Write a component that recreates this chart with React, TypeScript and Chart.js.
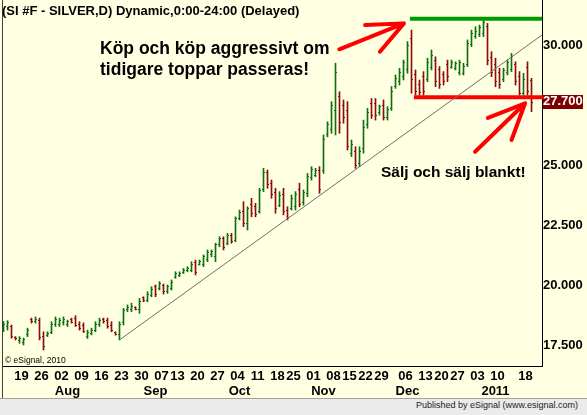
import React, { useEffect, useRef } from 'react';
import { Chart, registerables } from 'chart.js';

Chart.register(...registerables);

// ---- Daily OHLC bars (SI #F - SILVER, Jul 2010 .. Jan 2011), index = trading day ----
const highs = [
  18.50, 18.54, 18.36, 17.88, 17.88, 17.82, 18.23, 18.65, 18.70, 18.65,
  18.08, 18.08, 18.50, 18.70, 18.65, 18.70, 18.57, 18.65, 18.75, 18.50,
  18.45, 18.15, 18.23, 18.50, 18.65, 18.65, 18.65, 18.50, 18.08, 18.50,
  19.06, 19.20, 19.27, 19.12, 19.47, 19.54, 19.75, 19.96, 20.03, 20.17,
  20.07, 20.03, 20.24, 20.58, 20.58, 20.72, 20.79, 21.00, 21.07, 21.07,
  21.28, 21.49, 21.49, 21.77, 22.04, 22.04, 22.18, 22.18, 22.87, 23.15,
  23.50, 23.29, 23.64, 23.43, 24.06, 24.89, 24.82, 24.40, 24.06, 23.92,
  24.06, 23.29, 23.78, 23.92, 24.27, 23.99, 24.68, 24.96, 24.89, 24.96,
  26.28, 26.83, 27.67, 29.27, 28.08, 27.74, 27.67, 26.07, 25.79, 25.79,
  26.90, 27.39, 27.80, 27.80, 27.53, 27.74, 27.46, 28.30, 28.78, 29.06,
  29.40, 30.17, 30.65, 28.99, 28.57, 28.92, 29.48, 29.82, 29.54, 29.13,
  28.92, 29.40, 29.40, 29.33, 29.40, 29.27, 30.24, 30.65, 30.79, 30.86,
  31.14, 30.93, 29.75, 29.48, 29.06, 29.06, 29.40, 29.68, 29.33, 28.92,
  28.85, 29.33, 28.64,
];
const lows = [
  18.08, 18.15, 17.81, 17.74, 17.60, 17.53, 17.88, 18.44, 18.44, 17.74,
  17.32, 17.88, 18.00, 18.30, 18.30, 18.36, 18.30, 18.44, 18.30, 18.15,
  18.05, 17.80, 17.95, 18.08, 18.30, 18.44, 18.23, 18.08, 17.94, 17.74,
  18.36, 18.92, 18.92, 18.99, 18.85, 19.33, 19.33, 19.54, 19.54, 19.82,
  19.65, 19.68, 19.82, 20.31, 20.38, 20.51, 20.58, 20.58, 20.45, 20.86,
  20.79, 21.00, 21.20, 21.00, 21.62, 21.49, 21.70, 21.77, 21.83, 22.74,
  22.46, 22.32, 22.87, 22.87, 23.02, 23.92, 24.06, 23.64, 23.02, 23.29,
  22.95, 22.74, 23.15, 23.15, 23.29, 23.36, 23.71, 24.40, 24.54, 23.85,
  24.68, 26.20, 26.35, 26.28, 26.35, 26.77, 25.65, 25.38, 24.89, 24.96,
  25.52, 26.56, 26.97, 26.90, 27.11, 26.90, 26.90, 27.30, 28.22, 28.36,
  28.57, 28.85, 28.02, 27.94, 27.94, 27.94, 28.50, 28.99, 28.29, 28.22,
  28.36, 28.50, 29.06, 28.99, 28.78, 28.78, 29.13, 29.96, 30.31, 30.38,
  30.38, 29.20, 28.71, 28.29, 28.22, 28.50, 28.78, 28.92, 28.36, 27.94,
  27.94, 27.94, 27.25,
];
const opens = [
  18.20, 18.30, 18.30, 17.85, 17.70, 17.62, 17.95, 18.60, 18.50, 18.55,
  17.90, 17.92, 18.05, 18.40, 18.40, 18.45, 18.38, 18.60, 18.65, 18.40,
  18.35, 17.90, 18.00, 18.15, 18.40, 18.60, 18.55, 18.35, 18.05, 17.95,
  18.45, 19.00, 19.00, 19.10, 19.00, 19.50, 19.40, 19.60, 19.95, 19.90,
  20.00, 19.75, 19.90, 20.35, 20.42, 20.55, 20.62, 20.65, 20.95, 20.90,
  20.90, 21.10, 21.30, 21.20, 21.70, 21.95, 21.75, 22.10, 21.90, 22.80,
  23.10, 22.60, 23.40, 23.30, 23.10, 24.00, 24.70, 24.25, 23.90, 23.35,
  23.80, 23.15, 23.20, 23.30, 24.00, 23.45, 23.85, 24.50, 24.60, 24.80,
  24.80, 26.30, 26.50, 27.30, 27.90, 27.50, 27.30, 25.50, 25.60, 25.10,
  25.70, 26.70, 27.60, 27.60, 27.20, 27.50, 27.00, 27.40, 28.30, 28.50,
  28.70, 29.00, 30.30, 28.80, 28.40, 28.70, 28.60, 29.10, 29.40, 29.00,
  28.80, 29.20, 29.10, 29.05, 28.90, 28.85, 29.20, 30.05, 30.40, 30.45,
  30.50, 30.80, 29.50, 29.20, 28.90, 28.60, 28.90, 29.00, 29.20, 28.70,
  28.00, 29.10, 28.55,
];
const closes = [
  18.40, 18.45, 17.90, 17.78, 17.80, 17.75, 18.15, 18.50, 18.60, 17.85,
  17.45, 18.00, 18.40, 18.60, 18.55, 18.60, 18.50, 18.48, 18.35, 18.20,
  18.10, 18.05, 18.15, 18.40, 18.55, 18.50, 18.30, 18.15, 17.98, 18.40,
  18.95, 19.10, 19.15, 19.02, 19.35, 19.38, 19.65, 19.85, 19.65, 20.10,
  19.75, 19.95, 20.15, 20.50, 20.52, 20.65, 20.72, 20.90, 20.55, 21.00,
  21.20, 21.40, 21.42, 21.70, 21.95, 21.60, 22.10, 21.85, 22.80, 23.05,
  22.60, 23.20, 23.00, 22.95, 23.95, 24.70, 24.20, 23.80, 23.20, 23.75,
  23.10, 22.85, 23.65, 23.80, 23.40, 23.90, 24.55, 24.85, 24.80, 24.00,
  26.10, 26.70, 27.50, 28.90, 26.80, 27.00, 25.80, 25.90, 25.00, 25.60,
  26.60, 27.20, 27.10, 27.10, 27.45, 27.00, 27.35, 28.10, 28.65, 28.90,
  29.30, 30.00, 28.60, 28.10, 28.05, 28.10, 29.30, 29.60, 28.50, 28.40,
  28.50, 28.70, 29.30, 29.25, 29.30, 29.15, 30.10, 30.50, 30.60, 30.75,
  30.95, 29.40, 28.90, 28.50, 28.40, 28.95, 29.30, 29.55, 28.50, 28.00,
  28.60, 28.10, 27.65,
];

// ---- Axis ticks ----
const dayTickIdx = [4, 9, 14, 19, 24, 29, 34, 39, 43, 48, 53, 58, 63, 68, 72, 77, 82, 86, 90, 94, 100, 105, 109, 113, 118, 123, 130];
const dayTickText = ['19', '26', '02', '09', '16', '23', '30', '07', '13', '20', '27', '04', '11', '18', '25', '01', '08', '15', '22', '29', '06', '13', '20', '27', '03', '10', '18'];
const monthTickIdx = [16, 38, 59, 80, 101, 123];
const monthTickText = ['Aug', 'Sep', 'Oct', 'Nov', 'Dec', '2011'];
const priceTicks = [17.5, 20, 22.5, 25, 27.5, 30];

// ---- Annotations (in index / price space) ----
const trendLine = [{ x: 29, y: 17.74 }, { x: 134.625, y: 30.446 }];
const resistanceLevel = 31.12;
const resistanceFrom = 101.6;
const supportLevel = 27.85;
const supportFrom = 102.6;
const lastPrice = 27.7;
const buyArrow = [
  { x: 83.95, y: 29.85 }, { x: 100.1, y: 30.93 }, { x: 90.4, y: 30.86 },
  { x: 100.1, y: 30.93 }, { x: 94.1, y: 29.75 },
];
const sellArrow = [
  { x: 117.9, y: 25.58 }, { x: 130.4, y: 27.6 }, { x: 121.1, y: 26.99 },
  { x: 130.4, y: 27.6 }, { x: 127.0, y: 26.07 },
];

const X_MIN = -0.125;
const X_MAX = 134.625;
const Y_MIN = 16.654;
const Y_MAX = 31.904;

const UP = '#0f6e0f';
const DOWN = '#8c0c0c';
const FONT = "'Liberation Sans', Arial, Helvetica, sans-serif";

const ohlcTicks = {
  id: 'ohlcTicks',
  afterDatasetDraw(chart: any, args: any) {
    if (args.index !== 0) return;
    const { ctx, chartArea, scales } = chart;
    const xs = scales.x;
    const ys = scales.y;
    ctx.save();
    ctx.beginPath();
    ctx.rect(chartArea.left, chartArea.top, chartArea.right - chartArea.left, chartArea.bottom - chartArea.top);
    ctx.clip();
    for (let i = 0; i < opens.length; i++) {
      const xc = xs.getPixelForValue(i);
      const left = Math.round(xc - 0.5);
      ctx.fillStyle = closes[i] >= opens[i] ? UP : DOWN;
      const yo = Math.floor(ys.getPixelForValue(opens[i]));
      const yc = Math.floor(ys.getPixelForValue(closes[i]));
      ctx.fillRect(left - 1, yo, 1, 1);
      ctx.fillRect(left + 1, yc, 1, 1);
    }
    ctx.restore();
  },
};

const priceMarker = {
  id: 'priceMarker',
  afterDraw(chart: any) {
    const { ctx, chartArea, scales } = chart;
    const yv = scales.y.getPixelForValue(lastPrice);
    ctx.save();
    ctx.fillStyle = '#800000';
    ctx.fillRect(chartArea.right + 1, Math.round(yv) - 6, 40, 14);
    ctx.fillStyle = '#ffffff';
    ctx.font = `bold 13px ${FONT}`;
    ctx.textAlign = 'left';
    ctx.textBaseline = 'middle';
    ctx.fillText(lastPrice.toFixed(3), chartArea.right + 1, yv + 1);
    ctx.restore();
  },
};

export default function App() {
  const ref = useRef<HTMLCanvasElement | null>(null);

  useEffect(() => {
    if (!ref.current) return;
    const barData = highs.map((h, i) => ({ x: i, y: [lows[i], h] }));
    const barColors = closes.map((c, i) => (c >= opens[i] ? UP : DOWN));
    const lineDs = (data: any[], color: string, width: number, extra: any = {}) => ({
      type: 'line' as const,
      data,
      borderColor: color,
      borderWidth: width,
      pointRadius: 0,
      tension: 0,
      fill: false,
      borderCapStyle: 'round',
      borderJoinStyle: 'round',
      order: 0,
      ...extra,
    });
    const chart = new Chart(ref.current, {
      type: 'bar',
      data: {
        datasets: [
          {
            type: 'bar',
            data: barData as any,
            backgroundColor: barColors,
            borderWidth: 0,
            barThickness: 1,
            order: 10,
          } as any,
          lineDs(trendLine, '#6e6e6e', 1, { borderCapStyle: 'butt' }),
          lineDs([{ x: resistanceFrom, y: resistanceLevel }, { x: X_MAX, y: resistanceLevel }], '#009a00', 4, { borderCapStyle: 'butt' }),
          lineDs([{ x: supportFrom, y: supportLevel }, { x: 135.4, y: supportLevel }], '#ff0000', 4, { borderCapStyle: 'butt', clip: false }),
          lineDs(buyArrow, '#ff0000', 4),
          lineDs(sellArrow, '#ff0000', 4),
        ] as any,
      },
      options: {
        responsive: false,
        maintainAspectRatio: false,
        animation: false,
        devicePixelRatio: 1,
        events: [],
        layout: { padding: { left: 3, top: 0, right: 0, bottom: 0 } },
        plugins: {
          legend: { display: false },
          tooltip: { enabled: false },
          title: { display: false },
        },
        scales: {
          x: {
            type: 'linear',
            position: 'bottom',
            min: X_MIN,
            max: X_MAX,
            offset: false,
            weight: 0,
            grid: { display: false, drawTicks: false },
            border: { display: true, color: '#000000', width: 1 },
            ticks: {
              autoSkip: false,
              maxRotation: 0,
              minRotation: 0,
              labelOffset: 2,
              padding: 3,
              color: '#000000',
              font: { family: FONT, size: 13, weight: 'bold' },
              callback: (_v: any, i: number) => dayTickText[i],
            },
            afterBuildTicks: (axis: any) => {
              axis.ticks = dayTickIdx.map((v) => ({ value: v }));
            },
            afterFit: (axis: any) => {
              axis.height = 18;
              axis.paddingLeft = 0;
              axis.paddingRight = 0;
            },
          },
          x2: {
            type: 'linear',
            position: 'bottom',
            min: X_MIN,
            max: X_MAX,
            offset: false,
            weight: 1,
            grid: { display: false, drawTicks: false },
            border: { display: false },
            ticks: {
              autoSkip: false,
              maxRotation: 0,
              minRotation: 0,
              padding: 0,
              color: '#000000',
              font: { family: FONT, size: 13, weight: 'bold' },
              callback: (_v: any, i: number) => monthTickText[i],
            },
            afterBuildTicks: (axis: any) => {
              axis.ticks = monthTickIdx.map((v) => ({ value: v }));
            },
            afterFit: (axis: any) => {
              axis.height = 14;
              axis.paddingLeft = 0;
              axis.paddingRight = 0;
            },
          },
          y: {
            type: 'linear',
            position: 'right',
            min: Y_MIN,
            max: Y_MAX,
            grid: { display: false, drawTicks: false },
            border: { display: true, color: '#000000', width: 1 },
            ticks: {
              padding: 1,
              color: '#000000',
              font: { family: FONT, size: 13, weight: 'bold' },
              callback: (v: any) => Number(v).toFixed(3),
            },
            afterBuildTicks: (axis: any) => {
              axis.ticks = priceTicks.map((v) => ({ value: v }));
            },
            afterFit: (axis: any) => {
              axis.width = 45;
              axis.paddingTop = 0;
              axis.paddingBottom = 0;
            },
          },
        } as any,
      },
      plugins: [ohlcTicks, priceMarker],
    });
    return () => chart.destroy();
  }, []);

  return (
    <div
      style={{
        position: 'fixed',
        left: 0,
        top: 0,
        width: 587,
        height: 415,
        background: '#ffffe1',
        overflow: 'hidden',
        fontFamily: FONT,
        color: '#000',
      }}
    >
      <canvas
        ref={ref}
        width={587}
        height={398}
        style={{ position: 'absolute', left: 0, top: 0, width: 587, height: 398, display: 'block' }}
      />
      <div style={{ position: 'absolute', left: 2, top: 0, width: 1, height: 398, background: '#404040' }} />
      <div
        style={{
          position: 'absolute',
          left: 0,
          top: 398,
          width: 587,
          height: 17,
          background: '#ebebeb',
          borderTop: '1px solid #a0a0a0',
          boxSizing: 'border-box',
        }}
      />
      <div
        style={{
          position: 'absolute',
          left: 2,
          top: 3,
          fontSize: 13,
          fontWeight: 'bold',
          lineHeight: '16px',
          whiteSpace: 'nowrap',
        }}
      >
        (SI #F - SILVER,D) Dynamic,0:00-24:00 (Delayed)
      </div>
      <div
        style={{
          position: 'absolute',
          left: 100,
          top: 37.5,
          fontSize: 17.5,
          fontWeight: 'bold',
          lineHeight: '21.5px',
          whiteSpace: 'nowrap',
        }}
      >
        Köp och köp aggressivt om
        <br />
        tidigare toppar passeras!
      </div>
      <div
        style={{
          position: 'absolute',
          left: 381,
          top: 162,
          fontSize: 15.5,
          fontWeight: 'bold',
          lineHeight: '20px',
          whiteSpace: 'nowrap',
        }}
      >
        Sälj och sälj blankt!
      </div>
      <div
        style={{
          position: 'absolute',
          left: 5,
          top: 355,
          fontSize: 8.5,
          lineHeight: '10px',
          whiteSpace: 'nowrap',
        }}
      >
        © eSignal, 2010
      </div>
      <div
        style={{
          position: 'absolute',
          right: 9,
          top: 400,
          fontSize: 9,
          lineHeight: '11px',
          whiteSpace: 'nowrap',
          color: '#222',
        }}
      >
        Published by eSignal (www.esignal.com)
      </div>
    </div>
  );
}
